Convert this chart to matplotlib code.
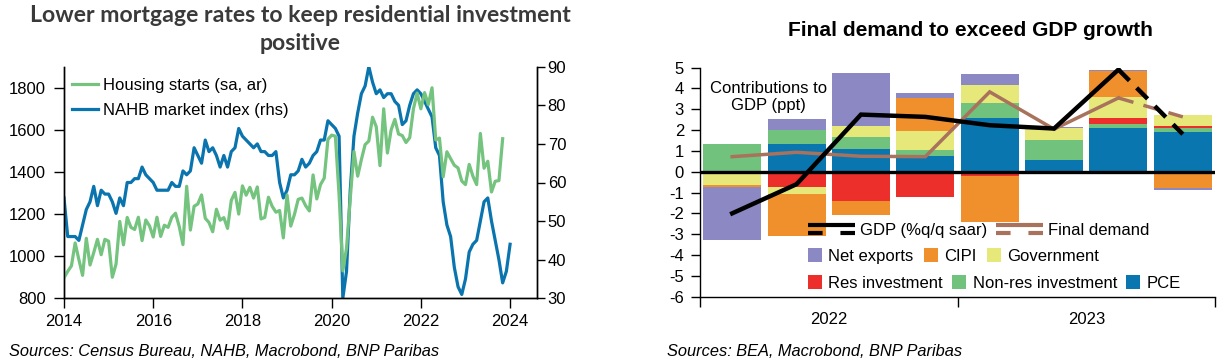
import matplotlib
matplotlib.use('Agg')
import matplotlib.pyplot as plt
import numpy as np
from matplotlib.lines import Line2D
from matplotlib.legend_handler import HandlerBase

plt.rcParams['font.family'] = ['Liberation Sans', 'DejaVu Sans']
plt.rcParams['axes.unicode_minus'] = False

# ---------------- data: left chart ----------------
housing_starts = [
    897, 928, 954, 1063, 984, 909, 1085, 958, 1017, 1080, 1007, 1080,
    1071, 900, 963, 1165, 1054, 1184, 1137, 1127, 1185, 1074, 1172, 1144,
    1091, 1185, 1094, 1147, 1137, 1185, 1204, 1141, 1055, 1332, 1124, 1237,
    1248, 1291, 1180, 1160, 1116, 1223, 1171, 1183, 1132, 1265, 1303, 1200,
    1334, 1290, 1327, 1276, 1329, 1177, 1184, 1280, 1237, 1209, 1217, 1087,
    1291, 1143, 1199, 1270, 1276, 1240, 1215, 1386, 1272, 1340, 1371, 1555,
    1575, 1570, 1290, 930, 1038, 1273, 1497, 1380, 1459, 1530, 1547, 1660,
    1615, 1430, 1700, 1490, 1600, 1650, 1580, 1573, 1540, 1563, 1700, 1775,
    1700, 1777, 1720, 1800, 1552, 1561, 1377, 1496, 1463, 1432, 1419, 1357,
    1340, 1436, 1380, 1340, 1583, 1418, 1451, 1305, 1356, 1359, 1558,
]
nahb_index = [
    56, 46, 46, 46, 45, 49, 53, 55, 59, 54, 58, 57,
    57, 55, 52, 56, 54, 60, 60, 61, 61, 64, 62, 61,
    60, 58, 58, 58, 58, 60, 59, 59, 63, 62, 63, 69,
    67, 65, 71, 68, 69, 67, 64, 67, 64, 68, 69, 74,
    72, 71, 70, 69, 70, 68, 68, 67, 67, 68, 60, 56,
    58, 62, 62, 63, 66, 64, 65, 67, 68, 71, 71, 76,
    75, 74, 72, 30, 37, 58, 72, 78, 83, 85, 90, 86,
    83, 84, 82, 83, 83, 81, 80, 75, 76, 80, 83, 84,
    83, 81, 79, 77, 69, 67, 55, 49, 46, 38, 33, 31,
    35, 42, 44, 45, 50, 55, 56, 50, 45, 40, 34, 37,
    44,
]
start_year = 2014
left_xticks = [2014, 2016, 2018, 2020, 2022, 2024]
left_yticks = [800, 1000, 1200, 1400, 1600, 1800]
right_yticks = [30, 40, 50, 60, 70, 80, 90]

# ---------------- data: right chart ----------------
quarters = ['2022Q1', '2022Q2', '2022Q3', '2022Q4', '2023Q1', '2023Q2', '2023Q3', '2023Q4']
years = ['2022', '2023']
pce = [0.0, 1.33, 1.07, 0.77, 2.56, 0.56, 2.10, 1.91]
nonres = [1.32, 0.69, 0.60, 0.27, 0.74, 0.96, 0.21, 0.19]
resinv = [0.0, -0.72, -1.40, -1.20, -0.19, 0.0, 0.29, 0.10]
gov = [-0.64, -0.33, 0.51, 0.92, 0.85, 0.58, 0.98, 0.51]
cipi = [-0.08, -2.06, -0.67, 1.60, -2.23, 0.0, 1.26, -0.80]
netexp = [-2.58, 0.53, 2.57, 0.24, 0.56, 0.05, 0.03, -0.10]
gdp = [-2.0, -0.6, 2.74, 2.63, 2.23, 2.07, 4.90, 1.80]
final_demand = [0.72, 0.93, 0.74, 0.72, 3.83, 2.04, 3.54, 2.63]

# ---------------- figure ----------------
W, H = 1228, 361
fig = plt.figure(figsize=(W / 100, H / 100), dpi=100)


def fx(px):
    return px / W


def fy(py):
    return 1 - py / H


GREEN = '#74c37e'
BLUE = '#0a74ae'

# ---------- left chart ----------
ax1 = fig.add_axes([fx(64), fy(298.3), (537.3 - 64) / W, (298.3 - 66.7) / H])
ax2 = ax1.twinx()
ax1.set_zorder(ax2.get_zorder() + 1)
ax1.patch.set_visible(False)

t_hs = start_year + np.arange(len(housing_starts)) / 12.0
t_nahb = start_year + np.arange(len(nahb_index)) / 12.0
l_nahb, = ax2.plot(t_nahb, nahb_index, color=BLUE, lw=2.3, solid_joinstyle='round')
l_hs, = ax1.plot(t_hs, housing_starts, color=GREEN, lw=2.3, solid_joinstyle='round')

ax1.set_xlim(2014, 2024.61)
ax1.set_ylim(800, 1900)
ax2.set_ylim(30, 90)
ax1.set_xticks(left_xticks)
ax1.set_yticks(left_yticks)
ax2.set_yticks(right_yticks)
for a in (ax1, ax2):
    a.spines['top'].set_visible(False)
    for s in a.spines.values():
        s.set_linewidth(1.0)
ax1.tick_params(axis='y', direction='out', length=7, width=1, pad=6, labelsize=12)
ax1.tick_params(axis='x', direction='out', length=7, width=1, pad=4, labelsize=12)
ax2.tick_params(axis='y', direction='out', length=5.5, width=1, pad=2, labelsize=12)

ax1.legend([l_hs, l_nahb], ['Housing starts (sa, ar)', 'NAHB market index (rhs)'],
           loc='upper left', bbox_to_anchor=(fx(72), fy(78)), bbox_transform=fig.transFigure,
           frameon=False, borderpad=0, borderaxespad=0, handlelength=1.56,
           handletextpad=0.3, labelspacing=0.62, fontsize=12)

# ---------- right chart ----------
ax3 = fig.add_axes([fx(700), fy(296.7), (1215 - 700) / W, (296.7 - 67.5) / H])
x = np.arange(len(quarters))
components = [
    (pce, '#0a76b0', 'PCE'),
    (nonres, '#70c27d', 'Non-res investment'),
    (resinv, '#ec2f2a', 'Res investment'),
    (gov, '#e6e97a', 'Government'),
    (cipi, '#f0902c', 'CIPI'),
    (netexp, '#8c88c4', 'Net exports'),
]
pos_b = np.zeros(len(x))
neg_b = np.zeros(len(x))
handles = {}
for vals, col, lab in components:
    v = np.array(vals, dtype=float)
    bottom = np.where(v >= 0, pos_b, neg_b)
    bc = ax3.bar(x, v, width=0.9, bottom=bottom, color=col, linewidth=0, zorder=2)
    handles[lab] = bc
    pos_b += np.clip(v, 0, None)
    neg_b += np.clip(v, None, 0)

ax3.axhline(0, color='black', lw=2.4, zorder=3)
BROWN = '#a8725c'
g = np.array(gdp)
f = np.array(final_demand)
ax3.plot(x[:7], f[:7], color=BROWN, lw=2.5, zorder=4, solid_joinstyle='miter')
ax3.plot(x[6:], f[6:], color=BROWN, lw=2.5, zorder=4, dashes=(4.5, 3.0), dash_capstyle='butt')
ax3.plot(x[:7], g[:7], color='black', lw=3.2, zorder=5, solid_joinstyle='miter')
ax3.plot(x[6:], g[6:], color='black', lw=3.2, zorder=5, dashes=(3.5, 2.3), dash_capstyle='butt')

ax3.set_xlim(-0.5, 7.5)
ax3.set_ylim(-6, 5)
ax3.set_yticks(range(-6, 6))
ax3.set_xticks([-0.5, 3.5, 7.5])
ax3.set_xticklabels([])
ax3.set_xticks([1.5, 5.5], minor=True)
ax3.set_xticklabels(years, minor=True)
ax3.tick_params(axis='x', which='major', direction='out', length=7, width=1)
ax3.tick_params(axis='x', which='minor', length=0, pad=11, labelsize=12)
ax3.tick_params(axis='y', direction='out', length=6.5, width=1, pad=5, labelsize=12)
ax3.spines['top'].set_visible(False)
ax3.spines['right'].set_visible(False)
for s in ('left', 'bottom'):
    ax3.spines[s].set_linewidth(1.0)

ax3.text(0.56, 3.57, 'Contributions to\nGDP (ppt)', ha='center', va='center',
         multialignment='center', fontsize=12, zorder=6)


class SolidDash(HandlerBase):
    def __init__(self, color, lw=3.0):
        super().__init__()
        self.color = color
        self.lw = lw

    def create_artists(self, legend, orig_handle, xdescent, ydescent, width, height, fontsize, trans):
        x0 = -xdescent
        x1 = x0 + width
        yc = height / 2 - ydescent
        top = Line2D([x0, x1], [yc + 3, yc + 3], color=self.color, lw=self.lw,
                     solid_capstyle='butt', transform=trans)
        d = width * 0.31
        gap = width - 2 * d
        bot = Line2D([x0, x1], [yc - 3, yc - 3], color=self.color, lw=self.lw,
                     dash_capstyle='butt', transform=trans)
        bot.set_dashes((d / self.lw, gap / self.lw))
        return [top, bot]


h_gdp = Line2D([], [], color='black')
h_fd = Line2D([], [], color=BROWN)
fig.legend([h_gdp, h_fd], ['GDP (%q/q saar)', 'Final demand'],
           handler_map={h_gdp: SolidDash('black'), h_fd: SolidDash(BROWN)},
           loc='center left', bbox_to_anchor=(fx(808), fy(230.5)), ncol=2,
           frameon=False, borderpad=0, borderaxespad=0, handlelength=2.82,
           handletextpad=0.3, columnspacing=0.54, fontsize=12)
fig.legend([handles['Net exports'], handles['CIPI'], handles['Government']],
           ['Net exports', 'CIPI', 'Government'],
           loc='center left', bbox_to_anchor=(fx(808), fy(256)), ncol=3,
           frameon=False, borderpad=0, borderaxespad=0, handlelength=0.84, handleheight=0.84,
           handletextpad=0.39, columnspacing=0.6, fontsize=12)
fig.legend([handles['Res investment'], handles['Non-res investment'], handles['PCE']],
           ['Res investment', 'Non-res investment', 'PCE'],
           loc='center left', bbox_to_anchor=(fx(808), fy(283)), ncol=3,
           frameon=False, borderpad=0, borderaxespad=0, handlelength=0.84, handleheight=0.84,
           handletextpad=0.39, columnspacing=0.55, fontsize=12)

# ---------- titles & sources ----------
lt1 = fig.text(fx(300), fy(16), 'Lower mortgage rates to keep residential investment',
               ha='center', va='center', fontsize=15, fontweight='bold',
               family=['Lato', 'DejaVu Sans'], color='#3a3a3a')
lt2 = fig.text(fx(300), fy(44), 'positive', ha='center', va='center', fontsize=15,
               fontweight='bold', family=['Lato', 'DejaVu Sans'], color='#3a3a3a')
rt = fig.text(fx(970), fy(30), 'Final demand to exceed GDP growth', ha='center', va='center',
              fontsize=13.5, fontweight='bold')
s1 = fig.text(fx(9), fy(352), 'Sources: Census Bureau, NAHB, Macrobond, BNP Paribas',
              ha='left', va='center', fontsize=12, style='italic')
s2 = fig.text(fx(667), fy(352), 'Sources: BEA, Macrobond, BNP Paribas',
              ha='left', va='center', fontsize=12, style='italic')

renderer = fig.canvas.get_renderer()


def fit(t, target):
    w = t.get_window_extent(renderer).width
    t.set_fontsize(t.get_fontsize() * target / w)


fit(lt1, 542)
lt2.set_fontsize(lt1.get_fontsize())
fit(rt, 365)
fit(s1, 430)
fit(s2, 294)

fig.savefig('out.png', dpi=100)
